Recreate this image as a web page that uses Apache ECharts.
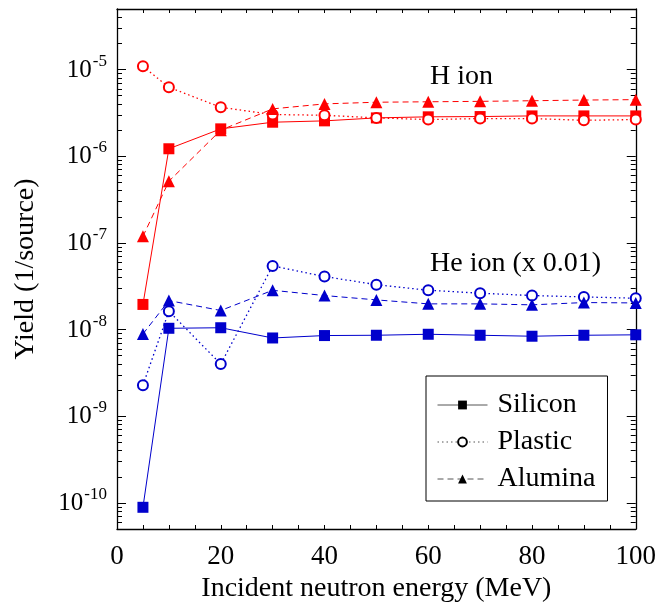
<!DOCTYPE html>
<html>
<head>
<meta charset="utf-8">
<script src="https://cdn.jsdelivr.net/npm/echarts@6/dist/echarts.min.js"></script>
<style>
html,body{margin:0;padding:0;background:#fff;}
#chart{width:659px;height:609px;}
</style>
</head>
<body>
<div id="chart"></div>
<script>
// Incident neutron energy (MeV)
var energy = [5, 10, 20, 30, 40, 50, 60, 70, 80, 90, 100];
// H ion yields (1/source)
var hSilicon = [1.95e-8, 1.22e-6, 2.07e-6, 2.47e-6, 2.56e-6, 2.77e-6, 2.85e-6, 2.87e-6, 2.92e-6, 2.92e-6, 2.92e-6];
var hPlastic = [1.09e-5, 6.25e-6, 3.67e-6, 3.03e-6, 2.97e-6, 2.77e-6, 2.65e-6, 2.72e-6, 2.72e-6, 2.6e-6, 2.65e-6];
var hAlumina = [1.19e-7, 5.14e-7, 2.0e-6, 3.52e-6, 4.02e-6, 4.2e-6, 4.25e-6, 4.3e-6, 4.37e-6, 4.45e-6, 4.5e-6];
// He ion yields (x 0.01)
var heSilicon = [8.9e-11, 1.035e-8, 1.05e-8, 8.0e-9, 8.53e-9, 8.6e-9, 8.83e-9, 8.6e-9, 8.38e-9, 8.6e-9, 8.7e-9];
var hePlastic = [2.28e-9, 1.63e-8, 4.0e-9, 5.43e-8, 4.09e-8, 3.3e-8, 2.84e-8, 2.63e-8, 2.47e-8, 2.38e-8, 2.3e-8];
var heAlumina = [8.9e-9, 2.16e-8, 1.66e-8, 2.84e-8, 2.47e-8, 2.2e-8, 1.98e-8, 1.98e-8, 1.93e-8, 2.05e-8, 2.03e-8];
// axis ticks
var xTicks = [0, 20, 40, 60, 80, 100];
var yMajor = [1e-10, 1e-9, 1e-8, 1e-7, 1e-6, 1e-5];
var yMinor = [];
for (var e = -11; e <= -5; e++) {
  for (var m = 2; m <= 9; m++) {
    var v = m * Math.pow(10, e);
    if (v >= 5e-11 && v <= 5e-5) yMinor.push(v);
  }
}
var legendNames = ['Silicon', 'Plastic', 'Alumina'];

function pair(arr) { return energy.map(function (x, i) { return [x, arr[i]]; }); }

var FONT = '"Liberation Serif", "Times New Roman", serif';
var RED = '#ff0000', BLUE = '#0000cc';

function mk(name, data, color, kind) {
  var s = {
    name: name, type: 'line', data: pair(data), xAxisIndex: 0, yAxisIndex: 0,
    lineStyle: { color: color, width: 1 },
    itemStyle: { color: color },
    symbolSize: 11,
    z: 3
  };
  if (kind === 'Silicon') { s.symbol = 'rect'; s.symbolSize = 11; s.lineStyle.type = 'solid'; }
  if (kind === 'Plastic') { s.symbol = 'emptyCircle'; s.symbolSize = 10; s.lineStyle.type = [1.5, 3]; s.lineStyle.width = 1.3; s.itemStyle.borderWidth = 1.2; }
  if (kind === 'Alumina') { s.symbol = 'triangle'; s.symbolSize = 12; s.lineStyle.type = [6, 4]; }
  return s;
}

var chart = echarts.init(document.getElementById('chart'), null, { renderer: 'canvas' });

var yBase = { type: 'log', min: 5e-11, max: 5e-5, gridIndex: 0, splitLine: { show: false } };

var option = {
  animation: false,
  backgroundColor: '#fff',
  textStyle: { fontFamily: FONT },
  grid: { left: 117, right: 23, top: 9, bottom: 80, containLabel: false },
  xAxis: [
    {
      type: 'value', min: 0, max: 100, interval: 20, position: 'bottom',
      axisLine: { show: true, lineStyle: { color: '#000', width: 1.3 } },
      axisTick: { show: true, inside: true, length: 4, lineStyle: { color: '#000' } },
      minorTick: { show: true, splitNumber: 4, length: 4, lineStyle: { color: '#000' } },
      axisLabel: { color: '#000', fontSize: 27, fontFamily: FONT, margin: 14, customValues: xTicks },
      splitLine: { show: false },
      name: 'Incident neutron energy (MeV)', nameLocation: 'middle', nameGap: 45,
      nameTextStyle: { color: '#000', fontSize: 28, fontFamily: FONT }
    },
    {
      type: 'value', min: 0, max: 100, interval: 20, position: 'top',
      axisLine: { show: true, lineStyle: { color: '#000', width: 1.3 } },
      axisTick: { show: true, inside: true, length: 4, lineStyle: { color: '#000' } },
      minorTick: { show: true, splitNumber: 4, length: 4, lineStyle: { color: '#000' } },
      axisLabel: { show: false }, splitLine: { show: false }
    }
  ],
  yAxis: [
    Object.assign({}, yBase, {
      position: 'left',
      axisLine: { show: true, lineStyle: { color: '#000', width: 1.3 } },
      axisTick: { show: true, inside: true, length: 9, customValues: yMajor, lineStyle: { color: '#000' } },
      axisLabel: {
        customValues: yMajor, margin: 10, color: '#000',
        formatter: function (v) { return '{b|10}{s|' + Math.round(Math.log10(v)) + '}'; },
        rich: {
          b: { fontSize: 25, fontFamily: FONT, color: '#000', verticalAlign: 'bottom', padding: [0, 0, 4, 0] },
          s: { fontSize: 17, fontFamily: FONT, color: '#000', verticalAlign: 'bottom', padding: [0, 0, 17, 1] }
        }
      },
      name: 'Yield (1/source)', nameLocation: 'middle', nameGap: 77,
      nameTextStyle: { color: '#000', fontSize: 28, fontFamily: FONT }
    }),
    Object.assign({}, yBase, {
      position: 'left',
      axisLine: { show: false },
      axisTick: { show: true, inside: true, length: 5, customValues: yMinor, lineStyle: { color: '#000' } },
      axisLabel: { show: false }
    }),
    Object.assign({}, yBase, {
      position: 'right',
      axisLine: { show: true, lineStyle: { color: '#000', width: 1.3 } },
      axisTick: { show: true, inside: true, length: 9, customValues: yMajor, lineStyle: { color: '#000' } },
      axisLabel: { show: false }
    }),
    Object.assign({}, yBase, {
      position: 'right',
      axisLine: { show: false },
      axisTick: { show: true, inside: true, length: 5, customValues: yMinor, lineStyle: { color: '#000' } },
      axisLabel: { show: false }
    })
  ],
  legend: {
    orient: 'vertical', left: 426, top: 376,
    padding: [15, 12, 8, 11], itemGap: 9,
    itemWidth: 50, itemHeight: 11,
    backgroundColor: '#fff', borderColor: '#000', borderWidth: 1,
    textStyle: { fontSize: 28, fontFamily: FONT, color: '#000', lineHeight: 28, padding: [0, 0, 0, 5] },
    selectedMode: false,
    data: legendNames.map(function (n) {
      return { name: n, itemStyle: { color: '#000', borderColor: '#000' }, lineStyle: { color: '#555', width: 1 } };
    })
  },
  graphic: [
    { type: 'text', left: 430, top: 63, style: { text: 'H ion', font: '28px ' + FONT, fill: '#000' } },
    { type: 'text', left: 430, top: 250, style: { text: 'He ion (x 0.01)', font: '28px ' + FONT, fill: '#000' } }
  ],
  series: [
    mk('Silicon', hSilicon, RED, 'Silicon'),
    mk('Plastic', hPlastic, RED, 'Plastic'),
    mk('Alumina', hAlumina, RED, 'Alumina'),
    mk('Silicon', heSilicon, BLUE, 'Silicon'),
    mk('Plastic', hePlastic, BLUE, 'Plastic'),
    mk('Alumina', heAlumina, BLUE, 'Alumina')
  ]
};
chart.setOption(option);
</script>
</body>
</html>
